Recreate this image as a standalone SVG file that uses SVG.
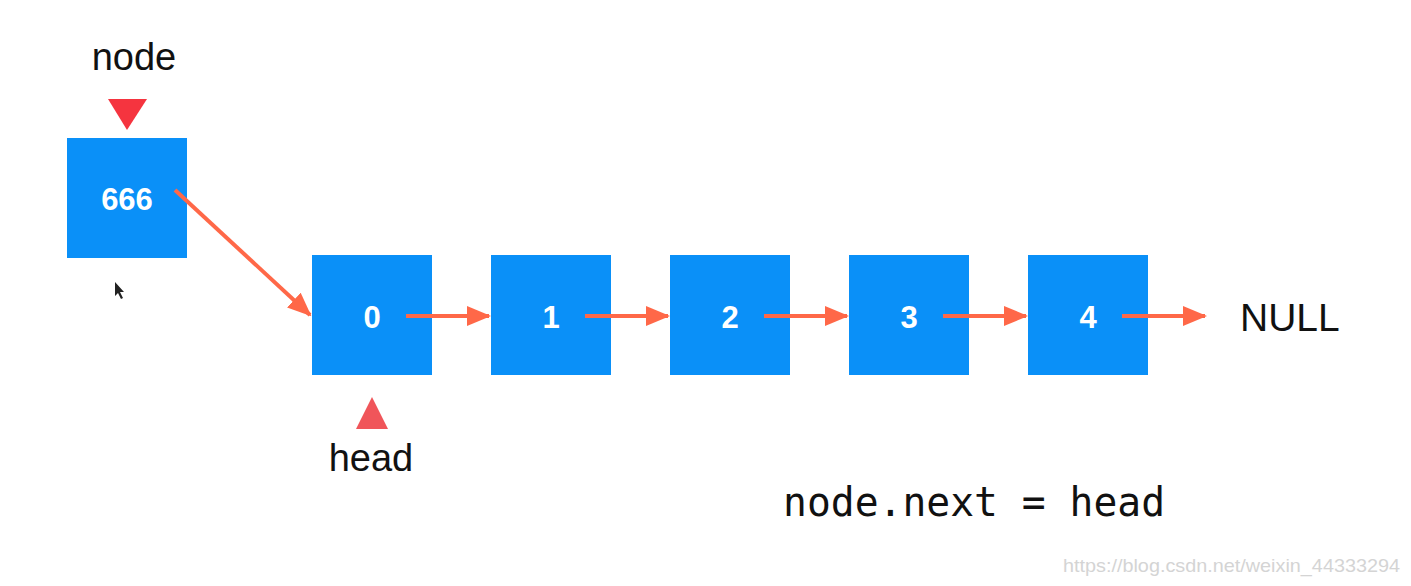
<svg xmlns="http://www.w3.org/2000/svg" width="1411" height="586" viewBox="0 0 1411 586">
<style>
.box{fill:#0A90F8}
.num{font-family:"Liberation Sans",Arial,sans-serif;font-weight:bold;font-size:31px;fill:#ffffff;text-anchor:middle}
.lbl{font-family:"Liberation Sans",Arial,sans-serif;font-size:38px;fill:#111111;text-anchor:middle}
.conn{stroke:#FF6848;stroke-width:4;fill:none;marker-end:url(#ah)}
.code{font-family:"DejaVu Sans Mono",monospace;font-size:40px;fill:#111111}
.wm{font-family:"Liberation Sans",Arial,sans-serif;font-size:19px;fill:#d4d4d4}
</style>
<defs>
<marker id="ah" markerWidth="6" markerHeight="5" refX="5.5" refY="2.5" orient="auto" markerUnits="strokeWidth">
<path d="M0,0 L6,2.5 L0,5 Z" fill="#FF6848"/>
</marker>
</defs>
<rect width="1411" height="586" fill="#ffffff"/>
<g id="node666">
<rect class="box" x="67" y="138" width="120" height="120"/>
<text class="num" x="127" y="210">666</text>
</g>
<g id="node0"><rect class="box" x="312" y="255" width="120" height="120"/><text class="num" x="372" y="328">0</text></g>
<g id="node1"><rect class="box" x="491" y="255" width="120" height="120"/><text class="num" x="551" y="328">1</text></g>
<g id="node2"><rect class="box" x="670" y="255" width="120" height="120"/><text class="num" x="730" y="328">2</text></g>
<g id="node3"><rect class="box" x="849" y="255" width="120" height="120"/><text class="num" x="909" y="328">3</text></g>
<g id="node4"><rect class="box" x="1028" y="255" width="120" height="120"/><text class="num" x="1088" y="328">4</text></g>
<g id="connectors">
<line class="conn" x1="175" y1="190" x2="310" y2="315"/>
<line class="conn" x1="406" y1="316" x2="489" y2="316"/>
<line class="conn" x1="585" y1="316" x2="668" y2="316"/>
<line class="conn" x1="764" y1="316" x2="847" y2="316"/>
<line class="conn" x1="943" y1="316" x2="1026" y2="316"/>
<line class="conn" x1="1122" y1="316" x2="1205" y2="316"/>
</g>
<g id="nodePointer">
<polygon points="108,99 147,99 127,130" fill="#F5343F"/>
<text class="lbl" x="134" y="70">node</text>
</g>
<g id="headPointer">
<polygon points="356,429 388,429 372,397" fill="#F0555A"/>
<text class="lbl" x="371" y="471">head</text>
</g>
<text id="null" x="1240" y="331" font-family="'Liberation Sans',Arial,sans-serif" font-size="39" fill="#111111">NULL</text>
<text class="code" x="783" y="516" textLength="382" lengthAdjust="spacingAndGlyphs">node.next = head</text>
<path d="M115,282 L115,296 L118,293 L121,299 L123,298 L120,292 L124,292 Z" fill="#222222"/>
<text class="wm" x="1063" y="572" textLength="337" lengthAdjust="spacingAndGlyphs">https://blog.csdn.net/weixin_44333294</text>
</svg>
